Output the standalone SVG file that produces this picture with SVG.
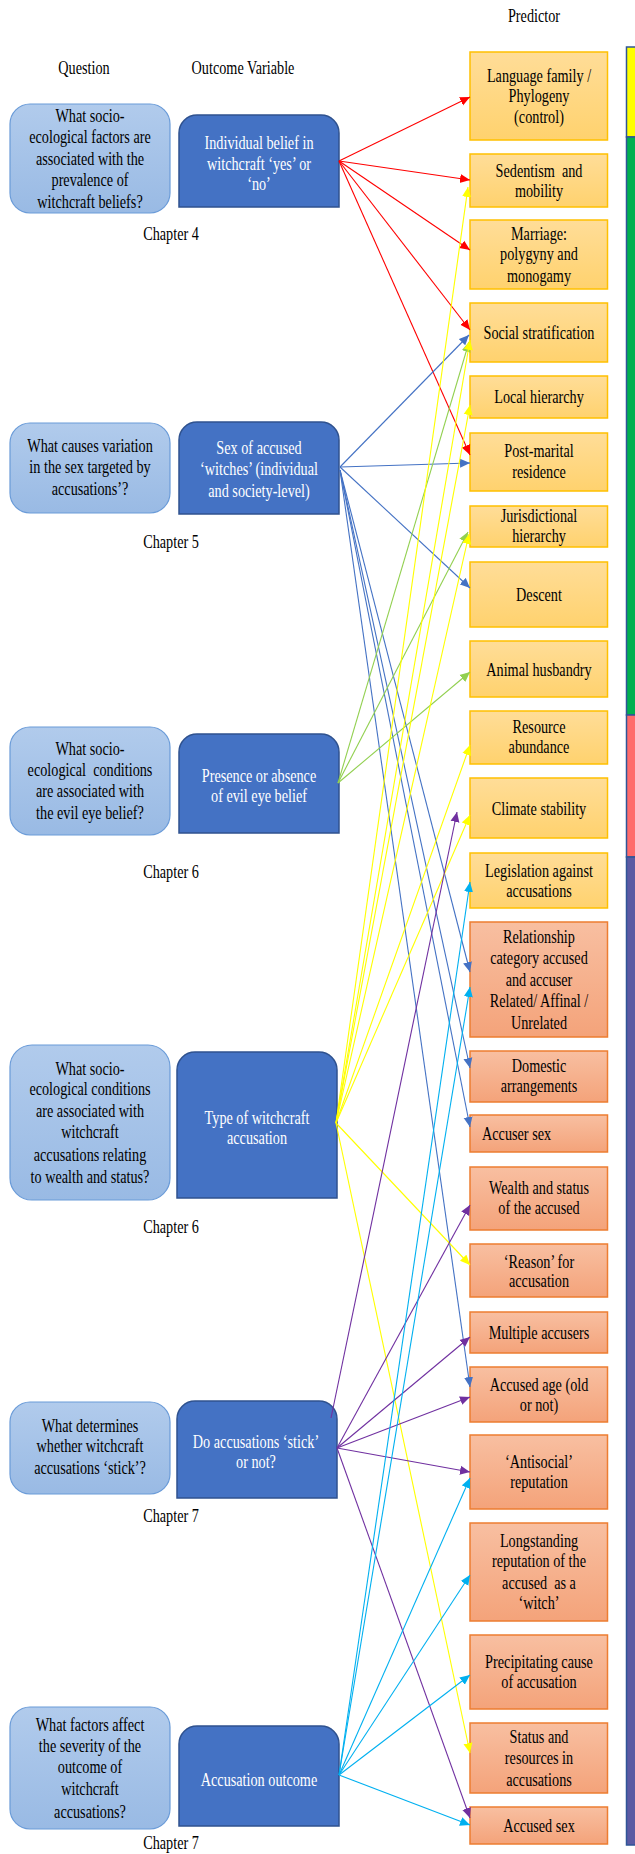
<svg xmlns="http://www.w3.org/2000/svg" width="635" height="1854" viewBox="0 0 635 1854">
<style>
.t{font-family:"Liberation Serif","Times New Roman",serif;font-size:18px;fill:#000;text-anchor:middle}
.w{fill:#fff}
.l{text-anchor:start}
.q{fill:url(#qg);stroke:#6A9BD8;stroke-width:1.2}
.o{fill:#4472C4;stroke:#2F528F;stroke-width:1.5}
.py{fill:url(#yg);stroke:#FFC000;stroke-width:1.5}
.po{fill:url(#og);stroke:#ED7D31;stroke-width:1.5}
.e{fill:none;stroke-width:1.1}
.red{stroke:#FF0000;marker-end:url(#mr)}
.blu{stroke:#4472C4;marker-end:url(#mb)}
.grn{stroke:#92D050;marker-end:url(#mg)}
.yel{stroke:#FFFF00;marker-end:url(#my)}
.pur{stroke:#7030A0;marker-end:url(#mp)}
.cya{stroke:#00B0F0;marker-end:url(#mc)}
.s{stroke:#2F5597;stroke-width:1.5}
</style>
<defs>
<linearGradient id="qg" x1="0" y1="0" x2="0" y2="1"><stop offset="0" stop-color="#B1CBEC"/><stop offset="1" stop-color="#99BAE4"/></linearGradient>
<linearGradient id="yg" x1="0" y1="0" x2="0" y2="1"><stop offset="0" stop-color="#FFDD98"/><stop offset="1" stop-color="#FFD26E"/></linearGradient>
<linearGradient id="og" x1="0" y1="0" x2="0" y2="1"><stop offset="0" stop-color="#F8BFA1"/><stop offset="1" stop-color="#F4A37A"/></linearGradient>
<marker id="mr" viewBox="0 0 10 10" refX="10" refY="5" markerWidth="10" markerHeight="10" markerUnits="userSpaceOnUse" orient="auto"><path d="M0,0.5 L10,5 L0,9.5 z" fill="#FF0000"/></marker>
<marker id="mb" viewBox="0 0 10 10" refX="10" refY="5" markerWidth="10" markerHeight="10" markerUnits="userSpaceOnUse" orient="auto"><path d="M0,0.5 L10,5 L0,9.5 z" fill="#4472C4"/></marker>
<marker id="mg" viewBox="0 0 10 10" refX="10" refY="5" markerWidth="10" markerHeight="10" markerUnits="userSpaceOnUse" orient="auto"><path d="M0,0.5 L10,5 L0,9.5 z" fill="#92D050"/></marker>
<marker id="my" viewBox="0 0 10 10" refX="10" refY="5" markerWidth="10" markerHeight="10" markerUnits="userSpaceOnUse" orient="auto"><path d="M0,0.5 L10,5 L0,9.5 z" fill="#FFFF00"/></marker>
<marker id="mp" viewBox="0 0 10 10" refX="10" refY="5" markerWidth="10" markerHeight="10" markerUnits="userSpaceOnUse" orient="auto"><path d="M0,0.5 L10,5 L0,9.5 z" fill="#7030A0"/></marker>
<marker id="mc" viewBox="0 0 10 10" refX="10" refY="5" markerWidth="10" markerHeight="10" markerUnits="userSpaceOnUse" orient="auto"><path d="M0,0.5 L10,5 L0,9.5 z" fill="#00B0F0"/></marker>
</defs>
<rect width="635" height="1854" fill="#fff"/>

<g id="headers">
<text class="t" transform="matrix(.79 0 0 1 534 0)" x="0" y="22">Predictor</text>
<text class="t" transform="matrix(.79 0 0 1 84 0)" x="0" y="74">Question</text>
<text class="t" transform="matrix(.79 0 0 1 243 0)" x="0" y="74">Outcome Variable</text>
<text class="t" transform="matrix(.79 0 0 1 171 0)" x="0" y="240">Chapter 4</text>
<text class="t" transform="matrix(.79 0 0 1 171 0)" x="0" y="548">Chapter 5</text>
<text class="t" transform="matrix(.79 0 0 1 171 0)" x="0" y="878.5">Chapter 6</text>
<text class="t" transform="matrix(.79 0 0 1 171 0)" x="0" y="1233.5">Chapter 6</text>
<text class="t" transform="matrix(.79 0 0 1 171 0)" x="0" y="1522">Chapter 7</text>
<text class="t" transform="matrix(.79 0 0 1 171 0)" x="0" y="1849">Chapter 7</text>
</g>

<g id="strip">
<rect class="s" x="626.5" y="47" width="14" height="90" fill="#FFFF00"/>
<rect class="s" x="626.5" y="137" width="14" height="578" fill="#00B050"/>
<rect class="s" x="626.5" y="715" width="14" height="142" fill="#FF6B6B"/>
<rect class="s" x="626.5" y="857" width="14" height="988" fill="#5B5AA3"/>
</g>

<g id="q1"><rect class="q" x="10" y="104" width="160" height="109" rx="20"/>
<text class="t" transform="matrix(.79 0 0 1 90 0)"><tspan x="0" y="122">What socio-</tspan><tspan x="0" y="143.5">ecological factors are</tspan><tspan x="0" y="165">associated with the</tspan><tspan x="0" y="186.5">prevalence of</tspan><tspan x="0" y="208">witchcraft beliefs?</tspan></text></g>
<g id="q2"><rect class="q" x="10" y="423" width="160" height="90" rx="20"/>
<text class="t" transform="matrix(.79 0 0 1 90 0)"><tspan x="0" y="452">What causes variation</tspan><tspan x="0" y="473.5">in the sex targeted by</tspan><tspan x="0" y="495">accusations’?</tspan></text></g>
<g id="q3"><rect class="q" x="10" y="727" width="160" height="108" rx="20"/>
<text class="t" transform="matrix(.79 0 0 1 90 0)" xml:space="preserve"><tspan x="0" y="755">What socio-</tspan><tspan x="0" y="776">ecological  conditions</tspan><tspan x="0" y="797">are associated with</tspan><tspan x="0" y="819">the evil eye belief?</tspan></text></g>
<g id="q4"><rect class="q" x="10" y="1045" width="160" height="155" rx="22"/>
<text class="t" transform="matrix(.79 0 0 1 90 0)"><tspan x="0" y="1075">What socio-</tspan><tspan x="0" y="1095">ecological conditions</tspan><tspan x="0" y="1117">are associated with</tspan><tspan x="0" y="1138.5">witchcraft</tspan><tspan x="0" y="1161">accusations relating</tspan><tspan x="0" y="1183.5">to wealth and status?</tspan></text></g>
<g id="q5"><rect class="q" x="10" y="1402" width="160" height="92" rx="20"/>
<text class="t" transform="matrix(.79 0 0 1 90 0)"><tspan x="0" y="1432">What determines</tspan><tspan x="0" y="1452.5">whether witchcraft</tspan><tspan x="0" y="1474.5">accusations ‘stick’?</tspan></text></g>
<g id="q6"><rect class="q" x="10" y="1707" width="160" height="122" rx="20"/>
<text class="t" transform="matrix(.79 0 0 1 90 0)"><tspan x="0" y="1731">What factors affect</tspan><tspan x="0" y="1752">the severity of the</tspan><tspan x="0" y="1773.5">outcome of</tspan><tspan x="0" y="1795.5">witchcraft</tspan><tspan x="0" y="1818">accusations?</tspan></text></g>

<g id="o1"><path class="o" d="M179,207 V133 A18,18 0 0 1 197,115 H321 A18,18 0 0 1 339,133 V207 Z"/>
<text class="t w" transform="matrix(.79 0 0 1 259 0)"><tspan x="0" y="149">Individual belief in</tspan><tspan x="0" y="170">witchcraft ‘yes’ or</tspan><tspan x="0" y="190">‘no’</tspan></text></g>
<g id="o2"><path class="o" d="M179,514 V440 A18,18 0 0 1 197,422 H321 A18,18 0 0 1 339,440 V514 Z"/>
<text class="t w" transform="matrix(.79 0 0 1 259 0)"><tspan x="0" y="454.5">Sex of accused</tspan><tspan x="0" y="475">‘witches’ (individual</tspan><tspan x="0" y="497.5">and society-level)</tspan></text></g>
<g id="o3"><path class="o" d="M179,833 V752 A18,18 0 0 1 197,734 H321 A18,18 0 0 1 339,752 V833 Z"/>
<text class="t w" transform="matrix(.79 0 0 1 259 0)"><tspan x="0" y="782">Presence or absence</tspan><tspan x="0" y="802">of evil eye belief</tspan></text></g>
<g id="o4"><path class="o" d="M177,1198 V1070 A18,18 0 0 1 195,1052 H319 A18,18 0 0 1 337,1070 V1198 Z"/>
<text class="t w" transform="matrix(.79 0 0 1 257 0)"><tspan x="0" y="1124">Type of witchcraft</tspan><tspan x="0" y="1144.5">accusation</tspan></text></g>
<g id="o5"><path class="o" d="M177,1498 V1419 A18,18 0 0 1 195,1401 H319 A18,18 0 0 1 337,1419 V1498 Z"/>
<text class="t w" transform="matrix(.79 0 0 1 256 0)"><tspan x="0" y="1448">Do accusations ‘stick’</tspan><tspan x="0" y="1468">or not?</tspan></text></g>
<g id="o6"><path class="o" d="M179,1826 V1744 A18,18 0 0 1 197,1726 H321 A18,18 0 0 1 339,1744 V1826 Z"/>
<text class="t w" transform="matrix(.79 0 0 1 259 0)" x="0" y="1786">Accusation outcome</text></g>

<g id="p1"><rect class="py" x="470" y="52" width="137.5" height="88"/>
<text class="t" transform="matrix(.79 0 0 1 539 0)"><tspan x="0" y="82">Language family /</tspan><tspan x="0" y="102.5">Phylogeny</tspan><tspan x="0" y="123">(control)</tspan></text></g>
<g id="p2"><rect class="py" x="470" y="154" width="137.5" height="53"/>
<text class="t" transform="matrix(.79 0 0 1 539 0)" xml:space="preserve"><tspan x="0" y="177">Sedentism  and</tspan><tspan x="0" y="197">mobility</tspan></text></g>
<g id="p3"><rect class="py" x="470" y="220" width="137.5" height="69"/>
<text class="t" transform="matrix(.79 0 0 1 539 0)"><tspan x="0" y="240">Marriage:</tspan><tspan x="0" y="260.5">polygyny and</tspan><tspan x="0" y="282">monogamy</tspan></text></g>
<g id="p4"><rect class="py" x="470" y="303" width="137.5" height="59"/>
<text class="t" transform="matrix(.79 0 0 1 539 0)" x="0" y="339.5">Social stratification</text></g>
<g id="p5"><rect class="py" x="470" y="376" width="137.5" height="42"/>
<text class="t" transform="matrix(.79 0 0 1 539 0)" x="0" y="403.5">Local hierarchy</text></g>
<g id="p6"><rect class="py" x="470" y="433" width="137.5" height="58"/>
<text class="t" transform="matrix(.79 0 0 1 539 0)"><tspan x="0" y="457.5">Post-marital</tspan><tspan x="0" y="478.5">residence</tspan></text></g>
<g id="p7"><rect class="py" x="470" y="506" width="137.5" height="41"/>
<text class="t" transform="matrix(.79 0 0 1 539 0)"><tspan x="0" y="522">Jurisdictional</tspan><tspan x="0" y="542.5">hierarchy</tspan></text></g>
<g id="p8"><rect class="py" x="470" y="562" width="137.5" height="65"/>
<text class="t" transform="matrix(.79 0 0 1 539 0)" x="0" y="601">Descent</text></g>
<g id="p9"><rect class="py" x="470" y="641" width="137.5" height="56"/>
<text class="t" transform="matrix(.79 0 0 1 539 0)" x="0" y="676">Animal husbandry</text></g>
<g id="p10"><rect class="py" x="470" y="711" width="137.5" height="53"/>
<text class="t" transform="matrix(.79 0 0 1 539 0)"><tspan x="0" y="733.5">Resource</tspan><tspan x="0" y="753.5">abundance</tspan></text></g>
<g id="p11"><rect class="py" x="470" y="778" width="137.5" height="60"/>
<text class="t" transform="matrix(.79 0 0 1 539 0)" x="0" y="815">Climate stability</text></g>
<g id="p12"><rect class="py" x="470" y="853" width="137.5" height="55"/>
<text class="t" transform="matrix(.79 0 0 1 539 0)"><tspan x="0" y="877">Legislation against</tspan><tspan x="0" y="897">accusations</tspan></text></g>
<g id="p13"><rect class="po" x="470" y="922" width="137.5" height="115"/>
<text class="t" transform="matrix(.79 0 0 1 539 0)"><tspan x="0" y="943.5">Relationship</tspan><tspan x="0" y="964.5">category accused</tspan><tspan x="0" y="986">and accuser</tspan><tspan x="0" y="1007.5">Related/ Affinal /</tspan><tspan x="0" y="1029">Unrelated</tspan></text></g>
<g id="p14"><rect class="po" x="470" y="1051" width="137.5" height="51"/>
<text class="t" transform="matrix(.79 0 0 1 539 0)"><tspan x="0" y="1072.5">Domestic</tspan><tspan x="0" y="1092.5">arrangements</tspan></text></g>
<g id="p15"><rect class="po" x="470" y="1115" width="137.5" height="37"/>
<text class="t l" transform="matrix(.79 0 0 1 482 0)" x="0" y="1140">Accuser sex</text></g>
<g id="p16"><rect class="po" x="470" y="1167" width="137.5" height="63"/>
<text class="t" transform="matrix(.79 0 0 1 539 0)"><tspan x="0" y="1194">Wealth and status</tspan><tspan x="0" y="1214.5">of the accused</tspan></text></g>
<g id="p17"><rect class="po" x="470" y="1244" width="137.5" height="53"/>
<text class="t" transform="matrix(.79 0 0 1 539 0)"><tspan x="0" y="1268">‘Reason’ for</tspan><tspan x="0" y="1287">accusation</tspan></text></g>
<g id="p18"><rect class="po" x="470" y="1312" width="137.5" height="41"/>
<text class="t" transform="matrix(.79 0 0 1 539 0)" x="0" y="1339">Multiple accusers</text></g>
<g id="p19"><rect class="po" x="470" y="1367" width="137.5" height="55"/>
<text class="t" transform="matrix(.79 0 0 1 539 0)"><tspan x="0" y="1391">Accused age (old</tspan><tspan x="0" y="1411">or not)</tspan></text></g>
<g id="p20"><rect class="po" x="470" y="1435" width="137.5" height="74"/>
<text class="t" transform="matrix(.79 0 0 1 539 0)"><tspan x="0" y="1468.5">‘Antisocial’</tspan><tspan x="0" y="1488.5">reputation</tspan></text></g>
<g id="p21"><rect class="po" x="470" y="1523" width="137.5" height="98"/>
<text class="t" transform="matrix(.79 0 0 1 539 0)" xml:space="preserve"><tspan x="0" y="1547">Longstanding</tspan><tspan x="0" y="1567.5">reputation of the</tspan><tspan x="0" y="1589">accused  as a</tspan><tspan x="0" y="1609.5">‘witch’</tspan></text></g>
<g id="p22"><rect class="po" x="470" y="1635" width="137.5" height="74"/>
<text class="t" transform="matrix(.79 0 0 1 539 0)"><tspan x="0" y="1668.5">Precipitating cause</tspan><tspan x="0" y="1688.5">of accusation</tspan></text></g>
<g id="p23"><rect class="po" x="470" y="1723" width="137.5" height="70"/>
<text class="t" transform="matrix(.79 0 0 1 539 0)"><tspan x="0" y="1743.5">Status and</tspan><tspan x="0" y="1764.5">resources in</tspan><tspan x="0" y="1786">accusations</tspan></text></g>
<g id="p24"><rect class="po" x="470" y="1807" width="137.5" height="37"/>
<text class="t" transform="matrix(.79 0 0 1 539 0)" x="0" y="1832.5">Accused sex</text></g>

<g id="connectors">
<line class="e red" x1="339" y1="161" x2="470" y2="97"/>
<line class="e red" x1="339" y1="161" x2="470" y2="180"/>
<line class="e red" x1="339" y1="161" x2="470" y2="250"/>
<line class="e red" x1="339" y1="161" x2="470" y2="330"/>
<line class="e red" x1="339" y1="161" x2="470" y2="455"/>
<line class="e blu" x1="340" y1="467" x2="469" y2="335"/>
<line class="e blu" x1="340" y1="467" x2="470" y2="463"/>
<line class="e blu" x1="340" y1="467" x2="470" y2="588"/>
<line class="e blu" x1="340" y1="470" x2="470" y2="972"/>
<line class="e blu" x1="340" y1="470" x2="470" y2="1068"/>
<line class="e blu" x1="340" y1="470" x2="470" y2="1127"/>
<line class="e blu" x1="340" y1="470" x2="470" y2="1387"/>
<line class="e grn" x1="338" y1="783" x2="469" y2="342"/>
<line class="e grn" x1="338" y1="783" x2="468" y2="532"/>
<line class="e grn" x1="338" y1="783" x2="470" y2="672"/>
<line class="e yel" x1="336" y1="1123" x2="468" y2="187"/>
<line class="e yel" x1="336" y1="1123" x2="470" y2="340"/>
<line class="e yel" x1="336" y1="1123" x2="470" y2="405"/>
<line class="e yel" x1="336" y1="1123" x2="469" y2="534"/>
<line class="e yel" x1="336" y1="1123" x2="470" y2="745"/>
<line class="e yel" x1="336" y1="1123" x2="470" y2="815"/>
<line class="e yel" x1="336" y1="1123" x2="470" y2="1265"/>
<line class="e yel" x1="336" y1="1123" x2="470" y2="1753"/>
<line class="e pur" x1="331" y1="1418" x2="457" y2="812"/>
<line class="e pur" x1="337" y1="1448" x2="470" y2="1205"/>
<line class="e pur" x1="337" y1="1448" x2="470" y2="1337"/>
<line class="e pur" x1="337" y1="1448" x2="470" y2="1397"/>
<line class="e pur" x1="337" y1="1448" x2="470" y2="1472"/>
<line class="e pur" x1="337" y1="1448" x2="470" y2="1818"/>
<line class="e cya" x1="339" y1="1775" x2="470" y2="882"/>
<line class="e cya" x1="339" y1="1775" x2="470" y2="987"/>
<line class="e cya" x1="339" y1="1775" x2="470" y2="1478"/>
<line class="e cya" x1="339" y1="1775" x2="470" y2="1575"/>
<line class="e cya" x1="339" y1="1775" x2="470" y2="1675"/>
<line class="e cya" x1="339" y1="1775" x2="470" y2="1825"/>
</g>
</svg>
